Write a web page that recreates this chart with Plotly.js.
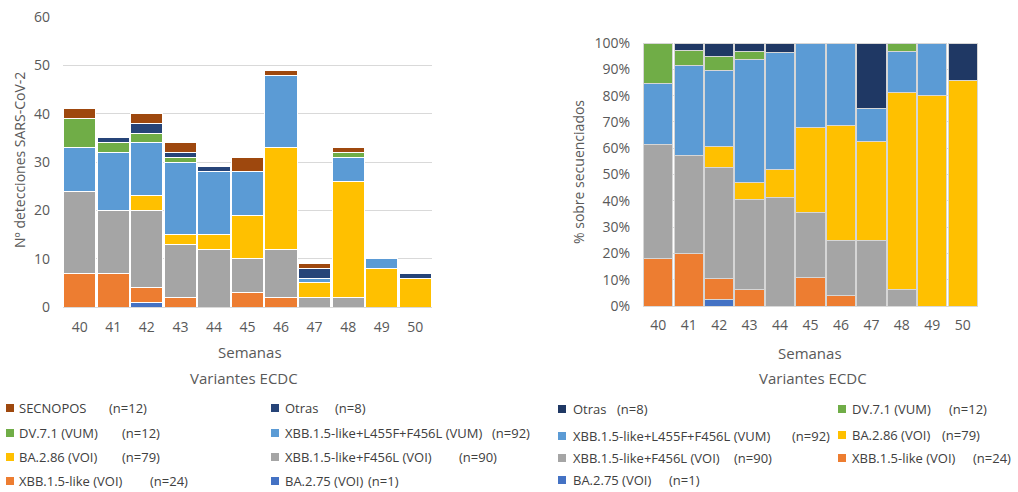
<!DOCTYPE html>
<html>
<head>
<meta charset="utf-8">
<script src="https://cdn.plot.ly/plotly-3.0.1.min.js"></script>
<style>
  html, body { margin: 0; padding: 0; background: #fff; }
  #chart { width: 1018px; height: 492px; }
</style>
</head>
<body>
<div id="chart"></div>
<script>
// Epidemiological weeks
const weeks = ['40', '41', '42', '43', '44', '45', '46', '47', '48', '49', '50'];

// Weekly SARS-CoV-2 detections per ECDC variant
const ba275    = [0, 0, 1, 0, 0, 0, 0, 0, 0, 0, 0];
const xbb15    = [7, 7, 3, 2, 0, 3, 2, 0, 0, 0, 0];
const xbbF456L = [17, 13, 16, 11, 12, 7, 10, 2, 2, 0, 0];
const ba286    = [0, 0, 3, 2, 3, 9, 21, 3, 24, 8, 6];
const xbbL455F = [9, 12, 11, 15, 13, 9, 15, 1, 5, 2, 0];
const dv71     = [6, 2, 2, 1, 0, 0, 0, 0, 1, 0, 0];
const otras    = [0, 1, 2, 1, 1, 0, 0, 2, 0, 0, 1];
const secnopos = [2, 0, 2, 2, 0, 3, 1, 1, 1, 0, 0];

// Series names
const nameBA275 = 'BA.2.75 (VOI)';
const nameXBB15 = 'XBB.1.5-like (VOI)';
const nameF456L = 'XBB.1.5-like+F456L (VOI)';
const nameBA286 = 'BA.2.86 (VOI)';
const nameL455F = 'XBB.1.5-like+L455F+F456L (VUM)';
const nameDV71  = 'DV.7.1 (VUM)';
const nameOtras = 'Otras';
const nameSEC   = 'SECNOPOS';

const W = 1018, H = 492;
const px = x => x / W;
const py = y => 1 - y / H;
const sum = a => a.reduce((s, v) => s + v, 0);

const C = {
  ba275: '#4472C4', xbb15: '#ED7D31', f456l: '#A5A5A5', ba286: '#FFC000',
  l455f: '#5B9BD5', dv71: '#70AD47', otrasL: '#264478', otrasR: '#1F3864', sec: '#9E480E'
};

// Left chart: absolute counts (bottom to top)
const leftSeries = [
  [nameBA275, ba275, C.ba275], [nameXBB15, xbb15, C.xbb15], [nameF456L, xbbF456L, C.f456l],
  [nameBA286, ba286, C.ba286], [nameL455F, xbbL455F, C.l455f], [nameDV71, dv71, C.dv71],
  [nameOtras, otras, C.otrasL], [nameSEC, secnopos, C.sec]
];
// Right chart: share over sequenced samples (SECNOPOS excluded)
const rightSeries = [
  [nameBA275, ba275, C.ba275], [nameXBB15, xbb15, C.xbb15], [nameF456L, xbbF456L, C.f456l],
  [nameBA286, ba286, C.ba286], [nameL455F, xbbL455F, C.l455f], [nameDV71, dv71, C.dv71],
  [nameOtras, otras, C.otrasR]
];
const seqTotals = weeks.map((w, i) => sum(rightSeries.map(s => s[1][i])));

const traces = [];
leftSeries.forEach(([name, vals, color]) => {
  traces.push({
    type: 'bar', x: weeks, y: vals, name: name, xaxis: 'x', yaxis: 'y',
    marker: { color: color, line: { color: '#ffffff', width: 1 } },
    showlegend: false, hovertemplate: name + '<br>Semana %{x}: %{y}<extra></extra>'
  });
});
rightSeries.forEach(([name, vals, color]) => {
  traces.push({
    type: 'bar', x: weeks, y: vals.map((v, i) => 100 * v / seqTotals[i]), name: name,
    xaxis: 'x2', yaxis: 'y2',
    marker: { color: color, line: { color: '#d6d6d6', width: 1 } },
    showlegend: false, hovertemplate: name + '<br>Semana %{x}: %{y:.1f}%<extra></extra>'
  });
});

const FONT = 'Open Sans, Liberation Sans, sans-serif';
const tickFont = { family: FONT, size: 14, color: '#595959' };
const textColor = '#404040';

const annotations = [];
const shapes = [];

function txt(x, y, text, opts) {
  annotations.push(Object.assign({
    xref: 'paper', yref: 'paper', x: px(x), y: py(y), text: text, showarrow: false,
    xanchor: 'left', yanchor: 'middle',
    font: { family: FONT, size: 13, color: textColor }
  }, opts || {}));
}

// Axis titles
const titleFont = { family: FONT, size: 15, color: '#595959' };
txt(250, 352, 'Semanas', { xanchor: 'center', font: titleFont });
txt(244, 378, 'Variantes ECDC', { xanchor: 'center', font: titleFont });
txt(19, 160, 'Nº detecciones SARS-CoV-2', { xanchor: 'center', textangle: -90,
  font: { family: FONT, size: 14, color: '#595959' } });
txt(810, 353, 'Semanas', { xanchor: 'center', font: titleFont });
txt(813, 378, 'Variantes ECDC', { xanchor: 'center', font: titleFont });
txt(578, 172, '% sobre secuenciados', { xanchor: 'center', textangle: -90,
  font: { family: FONT, size: 14, color: '#595959' } });

// Legend entries: [marker x, text x, row y, label, counts x, values, colour]
const nLabel = vals => '(n=' + sum(vals) + ')';
const legendItems = [
  [6, 17, 408, nameSEC, 107, secnopos, C.sec],
  [6, 17, 433, nameDV71, 120, dv71, C.dv71],
  [6, 17, 457, nameBA286, 120, ba286, C.ba286],
  [6, 17, 481, nameXBB15, 148, xbb15, C.xbb15],
  [271, 283, 408, nameOtras, 333, otras, C.otrasL],
  [271, 283, 433, nameL455F, 490, xbbL455F, C.l455f],
  [271, 283, 457, nameF456L, 457, xbbF456L, C.f456l],
  [271, 283, 481, nameBA275, 366, ba275, C.ba275],
  [558, 571, 409, nameOtras, 615, otras, C.otrasR],
  [558, 571, 436, nameL455F, 790, xbbL455F, C.l455f],
  [558, 571, 458, nameF456L, 732, xbbF456L, C.f456l],
  [558, 571, 480, nameBA275, 667, ba275, C.ba275],
  [838, 850, 409, nameDV71, 947, dv71, C.dv71],
  [838, 850, 435, nameBA286, 940, ba286, C.ba286],
  [838, 850, 458, nameXBB15, 971, xbb15, C.xbb15]
];
legendItems.forEach(([mx, tx, y, label, nx, vals, color]) => {
  shapes.push({
    type: 'rect', xref: 'paper', yref: 'paper',
    x0: px(mx), x1: px(mx + 8), y0: py(y + 4), y1: py(y - 4),
    fillcolor: color, line: { width: 0 }
  });
  txt(tx, y, label);
  txt(nx, y, nLabel(vals));
});

const layout = {
  width: W, height: H,
  margin: { l: 0, r: 0, t: 0, b: 0 },
  paper_bgcolor: '#ffffff', plot_bgcolor: '#ffffff',
  barmode: 'stack', bargap: 0.04,
  showlegend: false,
  font: { family: FONT, color: textColor },
  xaxis: {
    domain: [px(63), px(432)], type: 'category', tickfont: tickFont, ticklabelstandoff: 10,
    showline: false, ticks: '', showgrid: false, zeroline: false, fixedrange: true
  },
  yaxis: {
    domain: [py(307), py(17)], range: [0, 60], dtick: 10, tickfont: tickFont,
    ticklabelstandoff: 12,
    gridcolor: '#d9d9d9', gridwidth: 1, zeroline: true, zerolinecolor: '#d9d9d9',
    showline: false, ticks: '', fixedrange: true
  },
  xaxis2: {
    domain: [px(643), px(978)], type: 'category', anchor: 'y2', tickfont: tickFont,
    ticklabelstandoff: 9,
    showline: false, ticks: '', showgrid: false, zeroline: false, fixedrange: true
  },
  yaxis2: {
    domain: [py(306), py(43)], range: [0, 100], dtick: 10, ticksuffix: '%', anchor: 'x2',
    tickfont: tickFont, ticklabelstandoff: 12,
    gridcolor: '#d9d9d9', zeroline: true, zerolinecolor: '#d9d9d9',
    showline: false, ticks: '', fixedrange: true
  },
  annotations: annotations,
  shapes: shapes
};

Plotly.newPlot('chart', traces, layout, { displayModeBar: false, staticPlot: true });
</script>
</body>
</html>
